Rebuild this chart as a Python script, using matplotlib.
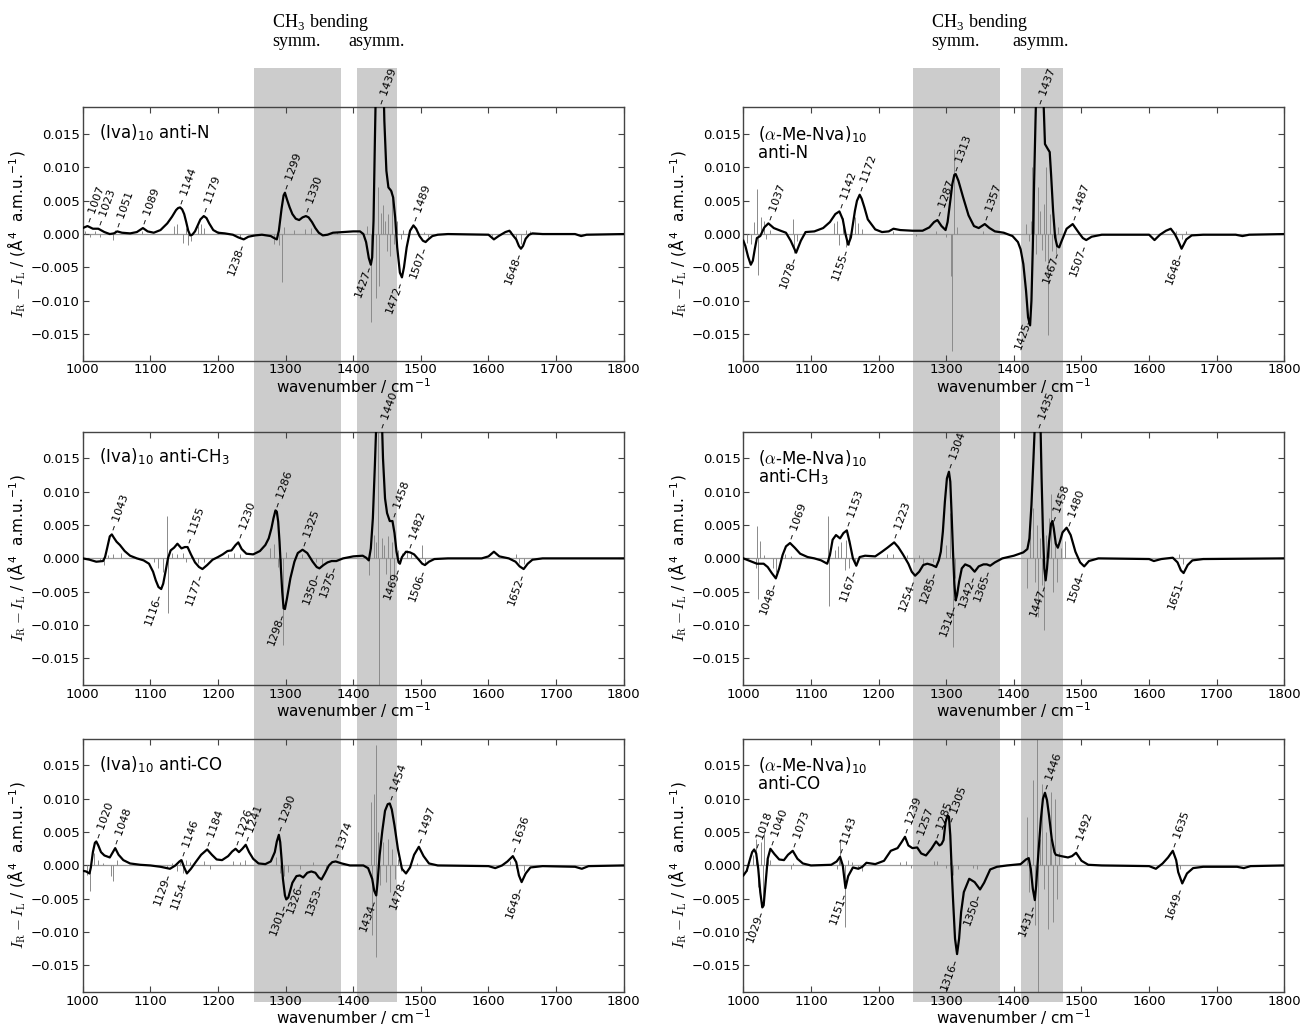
import numpy as np
import matplotlib.pyplot as plt
from matplotlib.patches import Rectangle
from matplotlib.transforms import blended_transform_factory

plt.rcParams['font.family'] = ['DejaVu Sans']
plt.rcParams['mathtext.fontset'] = 'cm'

wn_ticks = [1000, 1100, 1200, 1300, 1400, 1500, 1600, 1700, 1800]
cd_ticks = [-0.015, -0.010, -0.005, 0.0, 0.005, 0.010, 0.015]

# smoothed ROA spectra, (wavenumber, I_R - I_L in 1e-3)
iva_n = [(1000, 0.9), (1007, 1.2), (1015, 0.8), (1023, 0.8), (1032, 0.3), (1040, 0.0), (1046, 0.1),
         (1051, 0.4), (1058, 0.2), (1070, 0.1), (1080, 0.3), (1089, 0.9), (1096, 0.4), (1105, 0.2),
         (1115, 0.6), (1125, 1.6), (1132, 2.6), (1138, 3.6), (1141, 3.9), (1144, 4.0), (1147, 3.7),
         (1150, 3.0), (1153, 1.8), (1156, 0.5), (1159, -0.2), (1162, -0.1), (1166, 0.4), (1170, 1.3),
         (1174, 2.2), (1179, 2.7), (1183, 2.4), (1187, 1.6), (1193, 0.6), (1200, 0.2), (1210, 0.1),
         (1222, -0.1), (1230, -0.5), (1238, -0.8), (1245, -0.4), (1255, -0.2), (1265, -0.1), (1278, -0.3),
         (1283, -0.6), (1287, -0.8), (1290, 0.5), (1294, 3.8), (1297, 5.8), (1299, 6.2), (1302, 5.2),
         (1306, 4.0), (1310, 3.0), (1315, 2.3), (1320, 2.1), (1325, 2.5), (1330, 2.7), (1334, 2.5),
         (1339, 1.8), (1344, 0.9), (1349, 0.2), (1355, -0.2), (1362, -0.1), (1370, 0.2), (1385, 0.3),
         (1400, 0.4), (1410, 0.4), (1415, 0.0), (1419, -1.2), (1423, -3.6), (1426, -4.6), (1428, -3.5),
         (1430, 2.0), (1432, 14.0), (1434, 25.0), (1440, 32.0), (1444, 26.0), (1446, 17.0), (1449, 9.5),
         (1452, 7.0), (1456, 6.5), (1459, 5.5), (1462, 2.5), (1465, -2.0), (1469, -5.8), (1472, -6.5),
         (1475, -5.0), (1479, -2.0), (1484, 0.5), (1489, 1.3), (1493, 0.8), (1498, -0.3), (1503, -1.0),
         (1507, -1.2), (1511, -0.8), (1517, -0.3), (1525, -0.1), (1540, 0.0), (1600, -0.1), (1608, -0.8),
         (1615, -0.3), (1625, 0.3), (1631, 0.5), (1637, -0.3), (1641, -0.8), (1645, -1.8), (1648, -2.2),
         (1651, -1.8), (1655, -0.7), (1660, -0.1), (1665, 0.1), (1680, 0.0), (1728, 0.0), (1737, -0.3),
         (1745, -0.1), (1800, 0.0)]
iva_ch3 = [(1000, 0.0), (1010, -0.2), (1020, -0.5), (1030, -0.4), (1033, 0.2), (1036, 1.5), (1040, 3.3),
           (1043, 3.6), (1046, 3.1), (1050, 2.5), (1055, 2.0), (1062, 1.1), (1070, 0.4), (1080, 0.0),
           (1090, -0.3), (1098, -0.8), (1104, -2.0), (1108, -3.3), (1112, -4.3), (1116, -4.6), (1119, -3.8),
           (1122, -2.2), (1126, 0.0), (1130, 1.2), (1135, 1.6), (1140, 2.2), (1146, 1.5), (1151, 1.7),
           (1155, 1.7), (1160, 0.6), (1166, -0.6), (1172, -1.3), (1177, -1.6), (1184, -1.0), (1192, -0.2),
           (1200, 0.2), (1207, 0.6), (1214, 1.1), (1220, 1.2), (1226, 2.0), (1230, 2.4), (1235, 1.4),
           (1242, 0.7), (1252, 0.6), (1262, 1.1), (1270, 2.0), (1275, 3.0), (1279, 4.5), (1282, 6.0),
           (1285, 7.2), (1287, 7.0), (1289, 5.5), (1291, 2.5), (1293, -1.5), (1295, -5.0), (1297, -7.5),
           (1299, -7.6), (1302, -6.0), (1307, -3.0), (1313, -0.5), (1318, 0.8), (1325, 1.3), (1332, 0.8),
           (1340, -0.5), (1346, -1.3), (1350, -1.5), (1356, -1.0), (1362, -0.6), (1368, -0.4), (1375, -0.4),
           (1385, 0.0), (1400, 0.3), (1414, 0.4), (1419, 0.1), (1423, -0.3), (1426, 1.5), (1429, 6.0),
           (1432, 14.0), (1434, 20.0), (1438, 32.0), (1442, 22.0), (1444, 15.0), (1447, 9.0), (1450, 6.8),
           (1454, 5.6), (1458, 5.6), (1461, 3.8), (1464, 1.0), (1467, -0.6), (1469, -0.8), (1472, 0.2),
           (1478, 1.0), (1484, 0.9), (1490, 0.6), (1497, -0.2), (1502, -0.8), (1506, -1.0), (1512, -0.5),
           (1520, -0.1), (1540, 0.0), (1590, 0.0), (1600, 0.3), (1608, 1.0), (1616, 0.3), (1630, 0.0),
           (1640, -0.5), (1646, -1.2), (1652, -1.6), (1658, -0.8), (1665, -0.2), (1680, 0.0), (1800, 0.0)]
iva_co = [(1000, -0.8), (1005, -0.9), (1010, -1.2), (1012, -0.3), (1015, 2.0), (1018, 3.4), (1020, 3.6),
          (1023, 3.0), (1027, 2.0), (1032, 1.5), (1040, 1.2), (1044, 1.9), (1048, 2.6), (1053, 1.6),
          (1060, 0.8), (1070, 0.3), (1085, 0.1), (1100, 0.0), (1115, -0.2), (1129, -0.5), (1137, 0.0),
          (1143, 0.6), (1146, 0.8), (1150, -0.3), (1154, -1.2), (1160, -0.5), (1167, 0.5), (1175, 1.6),
          (1184, 2.4), (1191, 1.6), (1198, 0.9), (1206, 0.8), (1215, 1.4), (1221, 2.1), (1226, 2.5),
          (1231, 2.0), (1236, 2.5), (1241, 3.1), (1246, 2.0), (1252, 1.0), (1260, 0.3), (1270, 0.2),
          (1278, 0.6), (1284, 2.0), (1287, 3.6), (1290, 4.6), (1292, 3.5), (1294, 1.0), (1296, -2.0),
          (1299, -4.5), (1301, -5.1), (1304, -4.8), (1310, -2.6), (1316, -1.6), (1321, -1.5), (1326, -1.8),
          (1332, -1.1), (1338, -0.9), (1344, -1.1), (1349, -1.8), (1353, -2.1), (1358, -1.2), (1364, 0.0),
          (1369, 0.5), (1374, 0.6), (1383, 0.3), (1395, 0.0), (1415, 0.0), (1422, -0.4), (1428, -2.0),
          (1431, -3.8), (1434, -4.5), (1436, -2.5), (1439, 1.5), (1443, 5.2), (1447, 8.2), (1451, 9.2),
          (1454, 9.3), (1457, 8.4), (1461, 6.0), (1466, 2.5), (1472, -0.5), (1478, -1.2), (1484, -0.3),
          (1490, 1.6), (1497, 2.8), (1504, 1.4), (1512, 0.3), (1525, 0.0), (1600, -0.1), (1610, -0.4),
          (1620, 0.0), (1628, 0.6), (1636, 1.4), (1641, 0.5), (1645, -1.5), (1649, -2.5), (1655, -1.2),
          (1662, -0.3), (1680, -0.1), (1728, -0.2), (1738, -0.5), (1748, -0.1), (1800, 0.0)]
mnva_n = [(1000, -1.0), (1003, -1.8), (1007, -3.4), (1011, -4.6), (1014, -4.0), (1017, -2.2), (1020, -0.6),
          (1025, -0.3), (1031, 1.0), (1037, 1.6), (1045, 0.9), (1055, 0.5), (1063, 0.2), (1070, -1.0),
          (1078, -2.8), (1085, -1.0), (1092, 0.3), (1105, 0.4), (1118, 0.9), (1128, 1.8), (1136, 3.0),
          (1142, 3.4), (1147, 2.2), (1151, 0.0), (1155, -1.6), (1159, -0.5), (1162, 1.5), (1165, 3.5),
          (1168, 5.0), (1172, 5.9), (1175, 5.3), (1179, 4.0), (1184, 2.2), (1195, 0.7), (1205, 0.3),
          (1215, 0.4), (1222, 0.8), (1232, 0.6), (1250, 0.5), (1265, 0.5), (1275, 1.0), (1282, 1.8),
          (1287, 2.1), (1293, 1.2), (1299, 0.6), (1302, 1.8), (1306, 5.0), (1309, 7.5), (1312, 8.9),
          (1314, 9.0), (1318, 8.0), (1325, 5.5), (1333, 2.8), (1341, 1.2), (1348, 0.9), (1357, 1.5),
          (1364, 0.9), (1372, 0.4), (1385, 0.2), (1398, -0.3), (1406, -1.2), (1410, -2.3), (1414, -4.5),
          (1418, -8.5), (1421, -12.5), (1424, -13.7), (1426, -10.0), (1428, -2.0), (1430, 8.0), (1432, 17.0),
          (1434, 25.0), (1438, 32.0), (1442, 25.0), (1444, 19.5), (1446, 13.5), (1450, 12.8), (1453, 12.3),
          (1455, 9.0), (1458, 3.5), (1461, -0.5), (1464, -1.8), (1467, -2.0), (1470, -1.2), (1474, -0.2),
          (1478, 0.8), (1487, 1.5), (1496, 0.2), (1502, -0.6), (1507, -0.9), (1515, -0.4), (1530, -0.1),
          (1600, -0.1), (1608, -0.9), (1616, -0.1), (1625, 0.5), (1632, 0.8), (1638, 0.0), (1643, -1.0),
          (1648, -2.2), (1655, -0.8), (1663, -0.2), (1680, -0.1), (1728, -0.1), (1738, -0.3), (1748, -0.1),
          (1800, 0.0)]
mnva_ch3 = [(1000, 0.0), (1010, -0.4), (1020, -0.8), (1030, -0.8), (1036, -1.3), (1042, -2.2), (1048, -3.0),
            (1053, -1.5), (1058, 0.5), (1063, 1.8), (1069, 2.3), (1076, 1.6), (1084, 0.7), (1095, 0.2),
            (1105, 0.0), (1115, -0.3), (1124, -0.8), (1128, 0.5), (1132, 2.8), (1137, 3.5), (1143, 3.0),
            (1148, 3.8), (1153, 4.2), (1157, 2.5), (1162, 0.0), (1167, -1.1), (1172, 0.2), (1180, 0.4),
            (1195, 0.3), (1205, 1.0), (1213, 1.6), (1218, 2.0), (1223, 2.4), (1229, 1.7), (1236, 0.6),
            (1244, -0.8), (1249, -2.0), (1254, -2.6), (1260, -2.0), (1266, -1.0), (1272, -0.8), (1279, -1.0),
            (1285, -1.3), (1289, -0.3), (1292, 1.0), (1295, 4.0), (1298, 8.5), (1301, 12.0), (1304, 13.0),
            (1306, 11.5), (1308, 6.5), (1310, 1.0), (1312, -3.8), (1314, -6.3), (1316, -5.5), (1319, -3.5),
            (1323, -1.5), (1328, -0.9), (1335, -1.2), (1342, -2.0), (1348, -1.2), (1355, -0.9), (1360, -0.9),
            (1365, -1.1), (1372, -0.6), (1383, 0.0), (1400, 0.4), (1414, 0.9), (1420, 1.4), (1423, 3.0),
            (1426, 8.0), (1429, 15.0), (1431, 20.0), (1435, 32.0), (1439, 22.0), (1441, 12.0), (1443, 4.0),
            (1445, -1.5), (1447, -3.3), (1449, -1.5), (1452, 2.5), (1455, 5.2), (1457, 5.6), (1459, 4.5),
            (1462, 2.2), (1465, 1.6), (1468, 2.5), (1472, 3.9), (1478, 4.6), (1484, 3.5), (1491, 1.0),
            (1498, -0.6), (1504, -1.2), (1511, -0.4), (1525, 0.0), (1600, -0.1), (1607, -0.4), (1618, -0.1),
            (1635, 0.1), (1642, -0.6), (1647, -1.8), (1651, -2.2), (1657, -1.0), (1664, -0.3), (1680, -0.1),
            (1800, 0.0)]
mnva_co = [(1000, -1.5), (1005, -0.8), (1010, 1.0), (1013, 2.0), (1016, 2.4), (1019, 1.8), (1022, -0.5),
           (1025, -4.0), (1028, -6.3), (1030, -6.0), (1033, -2.5), (1036, 1.0), (1040, 2.5), (1046, 1.7),
           (1053, 0.9), (1060, 0.8), (1066, 1.6), (1073, 2.2), (1080, 1.0), (1088, 0.3), (1100, 0.0),
           (1130, 0.1), (1138, 0.6), (1143, 1.3), (1147, 0.0), (1151, -3.4), (1155, -1.6), (1162, -0.3),
           (1170, -0.5), (1176, -0.2), (1182, 0.4), (1195, 0.2), (1208, 0.7), (1218, 2.2), (1228, 2.6),
           (1234, 3.5), (1239, 4.3), (1244, 3.0), (1250, 2.6), (1257, 2.7), (1263, 1.8), (1270, 1.5),
           (1278, 2.5), (1285, 3.6), (1290, 3.0), (1293, 3.2), (1296, 3.8), (1299, 6.5), (1302, 7.5),
           (1304, 7.3), (1306, 4.5), (1308, -0.5), (1310, -5.0), (1313, -11.0), (1316, -13.3), (1319, -11.0),
           (1322, -7.0), (1326, -4.0), (1334, -2.0), (1342, -2.5), (1350, -3.6), (1356, -2.6), (1365, -0.6),
           (1375, -0.2), (1390, 0.0), (1410, 0.2), (1418, 0.9), (1422, 1.1), (1425, -0.5), (1428, -3.5),
           (1431, -5.2), (1433, -3.0), (1436, 1.5), (1440, 7.0), (1443, 10.0), (1446, 10.9), (1449, 9.8),
           (1452, 7.5), (1456, 4.0), (1460, 2.0), (1462, 1.6), (1470, 1.4), (1480, 1.2), (1486, 1.4),
           (1492, 1.9), (1500, 0.7), (1510, 0.1), (1530, 0.0), (1600, -0.1), (1610, -0.5), (1620, 0.3),
           (1628, 1.2), (1635, 2.2), (1640, 0.8), (1643, -1.0), (1649, -2.7), (1656, -1.2), (1665, -0.4),
           (1680, -0.2), (1730, -0.2), (1740, -0.4), (1750, -0.1), (1800, 0.0)]

# computed line spectra (stick intensities, 1e-3)
iva_n_sticks = [(1003, 0.5), (1010, -0.4), (1018, 0.4), (1025, -0.5), (1045, -0.9), (1048, 0.6), (1088, 0.5),
                (1135, 1.2), (1140, 1.5), (1148, -1.4), (1152, 0.9), (1156, -1.6), (1160, -1.0), (1170, 1.2),
                (1175, 1.5), (1180, 0.9), (1200, 0.4), (1232, -0.4), (1283, -1.5), (1290, -1.6), (1294, -7.2),
                (1298, 1.0), (1312, 0.6), (1328, 0.8), (1338, 0.9), (1376, 0.3), (1420, 1.2), (1426, -13.2),
                (1429, 6.5), (1433, -9.6), (1436, 7.0), (1438, -7.8), (1441, 3.2), (1444, 4.3), (1447, 2.0),
                (1450, -2.5), (1452, 3.0), (1455, -3.3), (1458, 6.4), (1461, -1.5), (1464, 2.0), (1470, -0.8),
                (1474, 0.6), (1505, 0.3), (1510, -0.5), (1605, -0.3), (1633, 0.5), (1640, -0.9), (1648, -1.5),
                (1655, 0.6), (1662, 0.5)]
iva_ch3_sticks = [(1025, -0.3), (1032, -1.0), (1038, 0.5), (1045, 0.6), (1056, 0.8), (1106, -0.6), (1112, -1.5),
                  (1118, -2.0), (1124, 6.3), (1126, -8.2), (1132, 0.8), (1140, 0.6), (1148, 0.8), (1152, -0.6),
                  (1160, 0.4), (1170, -0.7), (1180, -0.6), (1215, 0.6), (1224, 0.8), (1232, 0.6), (1277, 1.6),
                  (1283, 2.2), (1288, -1.3), (1293, -1.6), (1296, -13.0), (1300, 1.0), (1324, 0.6), (1345, -0.5),
                  (1354, -0.8), (1424, -2.5), (1430, 3.5), (1434, 2.4), (1437, 30.0), (1438, -30.0), (1442, 3.0),
                  (1446, 2.0), (1449, -2.4), (1452, 3.3), (1455, -4.0), (1458, 2.5), (1461, -2.5), (1466, 1.3),
                  (1472, 0.8), (1479, 1.2), (1486, 0.6), (1501, 2.0), (1506, -1.0), (1640, 0.6), (1645, -0.7),
                  (1652, -0.9)]
iva_co_sticks = [(1006, -1.4), (1010, -3.8), (1016, 1.8), (1022, 0.8), (1030, 0.4), (1042, -1.6), (1045, -2.4),
                 (1050, 0.8), (1125, -0.4), (1132, 0.4), (1140, -0.8), (1144, 0.9), (1148, -1.2), (1152, 0.8),
                 (1158, 0.5), (1180, 0.6), (1188, -0.5), (1222, 0.6), (1232, 0.5), (1240, 0.8), (1286, 1.2),
                 (1292, -1.2), (1298, -1.6), (1304, -1.0), (1322, -0.5), (1340, 0.5), (1360, -0.4), (1426, 9.5),
                 (1428, -10.5), (1431, 10.7), (1433, 18.0), (1434, -13.8), (1437, 5.0), (1440, -3.0), (1444, 3.5),
                 (1448, -2.5), (1451, 4.0), (1455, -4.0), (1458, 2.5), (1462, -2.0), (1466, 1.0), (1470, -0.8),
                 (1495, 0.4), (1632, 0.6), (1640, -0.4), (1652, -0.8)]
mnva_n_sticks = [(1005, -1.3), (1012, -1.5), (1016, 1.8), (1020, 6.7), (1022, -6.1), (1026, 2.6), (1031, 2.0),
                 (1034, -0.8), (1040, 0.6), (1073, 2.3), (1075, -2.8), (1080, -1.0), (1134, 1.7), (1139, 2.0),
                 (1142, -1.6), (1147, 2.4), (1152, -2.0), (1156, -1.6), (1165, 2.6), (1170, 1.7), (1176, 0.8),
                 (1222, 0.4), (1255, -0.3), (1285, 0.5), (1300, -0.4), (1307, -6.3), (1309, -17.5), (1312, 12.7),
                 (1316, 1.0), (1355, 0.4), (1418, 1.5), (1422, -1.0), (1425, 2.0), (1427, 10.0), (1430, 6.0),
                 (1433, -3.0), (1436, 7.0), (1438, 3.5), (1441, -2.4), (1444, 4.5), (1446, -4.0), (1448, 10.0),
                 (1450, -15.2), (1453, 3.0), (1456, -2.5), (1459, 2.2), (1462, -3.0), (1465, 1.0), (1500, -0.3),
                 (1640, 0.5), (1648, -0.8), (1655, 0.5)]
mnva_ch3_sticks = [(1018, -1.5), (1020, 4.8), (1022, -6.1), (1024, 2.6), (1030, 0.5), (1044, -1.5), (1048, -2.0),
                   (1062, 0.7), (1070, 0.4), (1125, 6.3), (1126, -7.1), (1135, 1.3), (1140, 1.8), (1145, 2.5),
                   (1150, -1.8), (1152, 2.8), (1156, -1.5), (1165, -1.0), (1212, 0.6), (1222, 0.7), (1242, 0.5),
                   (1252, -0.6), (1260, 0.5), (1266, -0.8), (1280, -0.5), (1300, 2.0), (1305, 6.8), (1310, -13.3),
                   (1313, -3.0), (1420, -4.4), (1424, 4.0), (1428, 7.6), (1431, -3.5), (1434, 5.0), (1436, -8.8),
                   (1439, 3.0), (1442, -4.0), (1445, -10.7), (1448, 3.5), (1452, 6.0), (1455, 9.6), (1458, -5.0),
                   (1461, 3.0), (1464, -3.5), (1470, 1.5), (1476, 2.6), (1644, 0.6), (1650, -0.8)]
mnva_co_sticks = [(1005, -0.8), (1014, 1.5), (1018, 4.0), (1021, -3.2), (1026, 3.5), (1029, -5.5), (1031, 5.3),
                  (1036, 1.0), (1040, 0.8), (1070, -0.6), (1073, 0.4), (1138, -0.5), (1141, 1.0), (1143, 3.8),
                  (1148, -1.5), (1151, -9.3), (1155, 0.8), (1160, 0.5), (1170, -0.4), (1176, -0.8), (1232, 0.5),
                  (1240, 0.6), (1248, -0.4), (1282, 0.6), (1286, 0.6), (1300, -0.4), (1306, 0.5), (1310, -1.5),
                  (1318, -0.6), (1340, -0.4), (1345, -0.5), (1420, 7.2), (1423, -4.0), (1428, 12.8), (1431, -9.0),
                  (1434, 30.0), (1435, -30.0), (1438, 4.0), (1441, 12.2), (1444, -3.5), (1447, 5.0), (1450, -9.6),
                  (1453, 4.0), (1455, 11.0), (1458, -8.5), (1461, 10.0), (1464, -5.0), (1467, 2.0), (1491, 0.5),
                  (1640, 1.0), (1645, -0.5)]

# peak labels: positive bands (label above) and negative bands (label below)
iva_n_up = [1007, 1023, 1051, 1089, 1144, 1179, 1299, 1330, 1439, 1489]
iva_n_down = [1238, 1427, 1472, 1507, 1648]
iva_ch3_up = [1043, 1155, 1230, 1286, 1325, 1440, 1458, 1482]
iva_ch3_down = [1116, 1177, 1298, 1350, 1375, 1469, 1506, 1652]
iva_co_up = [1020, 1048, 1146, 1184, 1226, 1241, 1290, 1374, 1454, 1497, 1636]
iva_co_down = [1129, 1154, 1301, 1326, 1353, 1434, 1478, 1649]
mnva_n_up = [1037, 1142, 1172, 1287, 1313, 1357, 1437, 1487]
mnva_n_down = [1078, 1155, 1425, 1467, 1507, 1648]
mnva_ch3_up = [1069, 1153, 1223, 1304, 1435, 1458, 1480]
mnva_ch3_down = [1048, 1167, 1254, 1285, 1314, 1342, 1365, 1447, 1504, 1651]
mnva_co_up = [1018, 1040, 1073, 1143, 1239, 1257, 1285, 1305, 1446, 1492, 1635]
mnva_co_down = [1029, 1151, 1316, 1350, 1431, 1649]

titles_iva = [r'(Iva)$_\mathregular{10}$ anti-N', r'(Iva)$_\mathregular{10}$ anti-CH$_\mathregular{3}$',
              r'(Iva)$_\mathregular{10}$ anti-CO']
titles_mnva = [r'anti-N', r'anti-CH$_\mathregular{3}$', r'anti-CO']
title_mnva_head = r'($\alpha$-Me-Nva)$_\mathregular{10}$'

# CH3 bending regions (cm-1) per column
bands_iva = [(1253, 1382), (1405, 1464)]
bands_mnva = [(1251, 1380), (1410, 1472)]

panels = [
    [(iva_n, iva_n_sticks, iva_n_up, iva_n_down),
     (iva_ch3, iva_ch3_sticks, iva_ch3_up, iva_ch3_down),
     (iva_co, iva_co_sticks, iva_co_up, iva_co_down)],
    [(mnva_n, mnva_n_sticks, mnva_n_up, mnva_n_down),
     (mnva_ch3, mnva_ch3_sticks, mnva_ch3_up, mnva_ch3_down),
     (mnva_co, mnva_co_sticks, mnva_co_up, mnva_co_down)],
]

YLIM = 0.019
fig = plt.figure(figsize=(13.03, 10.27), dpi=100)
lefts = [0.0635, 0.5705]
bottoms = [0.6488, 0.3330, 0.0340]
W, H = 0.4152, 0.2466
ang = np.deg2rad(70)
off = 3.0

axes = [[None] * 3 for _ in range(2)]
for c in range(2):
    for r in range(3):
        curve, sticks, up, down = panels[c][r]
        ax = fig.add_axes([lefts[c], bottoms[r], W, H])
        axes[c][r] = ax
        ax.set_facecolor('none')
        cx = np.array([p[0] for p in curve], float)
        cy = np.array([p[1] for p in curve], float) * 1e-3
        sx = [p[0] for p in sticks]
        sy = np.array([p[1] for p in sticks]) * 1e-3
        ax.axhline(0, color='#9a9a9a', lw=0.9, zorder=1)
        ax.vlines(sx, 0, sy, color='#8a8a8a', lw=0.7, zorder=2)
        ax.plot(cx, cy, color='black', lw=1.6, zorder=3)
        ax.set_xlim(1000, 1800)
        ax.set_ylim(-YLIM, YLIM)
        ax.set_xticks(wn_ticks)
        ax.set_yticks(cd_ticks)
        ax.set_yticklabels(['%.3f' % t if t >= 0 else '\u2212%.3f' % -t for t in cd_ticks])
        ax.tick_params(direction='in', top=True, right=True, length=4, width=0.8,
                       labelsize=9.5, pad=2, color='#444444')
        for s in ax.spines.values():
            s.set_color('#444444')
            s.set_linewidth(1.0)
        ax.set_xlabel(r'wavenumber / cm$^{\mathregular{-1}}$', fontsize=11, labelpad=0)
        ax.set_ylabel('$I_\\mathrm{R}-I_\\mathrm{L}$ / (\u00c5$^{\\mathregular{4}}$  a.m.u.$^{\\mathregular{-1}}$)',
                      fontsize=11, labelpad=2)
        if c == 0:
            ax.text(0.030, 0.878, titles_iva[r], transform=ax.transAxes, fontsize=12, va='baseline')
        else:
            ax.text(0.027, 0.872, title_mnva_head, transform=ax.transAxes, fontsize=12, va='baseline')
            ax.text(0.027, 0.800, titles_mnva[r], transform=ax.transAxes, fontsize=12, va='baseline')
        for x in up:
            y = min(np.interp(x, cx, cy), YLIM)
            ax.annotate('\u2013 %d' % x, (x, y), xytext=(off * np.cos(ang), off * np.sin(ang)),
                        textcoords='offset points', rotation=70, rotation_mode='anchor',
                        ha='left', va='center', fontsize=8, annotation_clip=False, zorder=4)
        for x in down:
            y = max(np.interp(x, cx, cy), -YLIM)
            ax.annotate('%d\u2013' % x, (x, y), xytext=(-off * np.cos(ang), -off * np.sin(ang)),
                        textcoords='offset points', rotation=70, rotation_mode='anchor',
                        ha='right', va='center', fontsize=8, annotation_clip=False, zorder=4)

# shaded CH3 bending regions spanning all three rows
band_y0 = 1 - 1002 / 1027
band_y1 = 1 - 68 / 1027
for c, bands in enumerate([bands_iva, bands_mnva]):
    tr = blended_transform_factory(axes[c][0].transData, fig.transFigure)
    for lo, hi in bands:
        fig.add_artist(Rectangle((lo, band_y0), hi - lo, band_y1 - band_y0, transform=tr,
                                 facecolor='#cccccc', edgecolor='none', zorder=-1))
    fig.text(tr.transform((bands[0][0], 0))[0] / fig.bbox.width + 0.014, 1 - 27 / 1027,
             r'CH$_\mathregular{3}$ bending', family='Liberation Serif', fontsize=13, va='baseline')
    fig.text(tr.transform((bands[0][0], 0))[0] / fig.bbox.width + 0.014, 1 - 46 / 1027,
             'symm.', family='Liberation Serif', fontsize=13, va='baseline')
    fig.text(tr.transform((bands[1][0], 0))[0] / fig.bbox.width - 0.006, 1 - 46 / 1027,
             'asymm.', family='Liberation Serif', fontsize=13, va='baseline')

fig.savefig('out.png', dpi=100)
